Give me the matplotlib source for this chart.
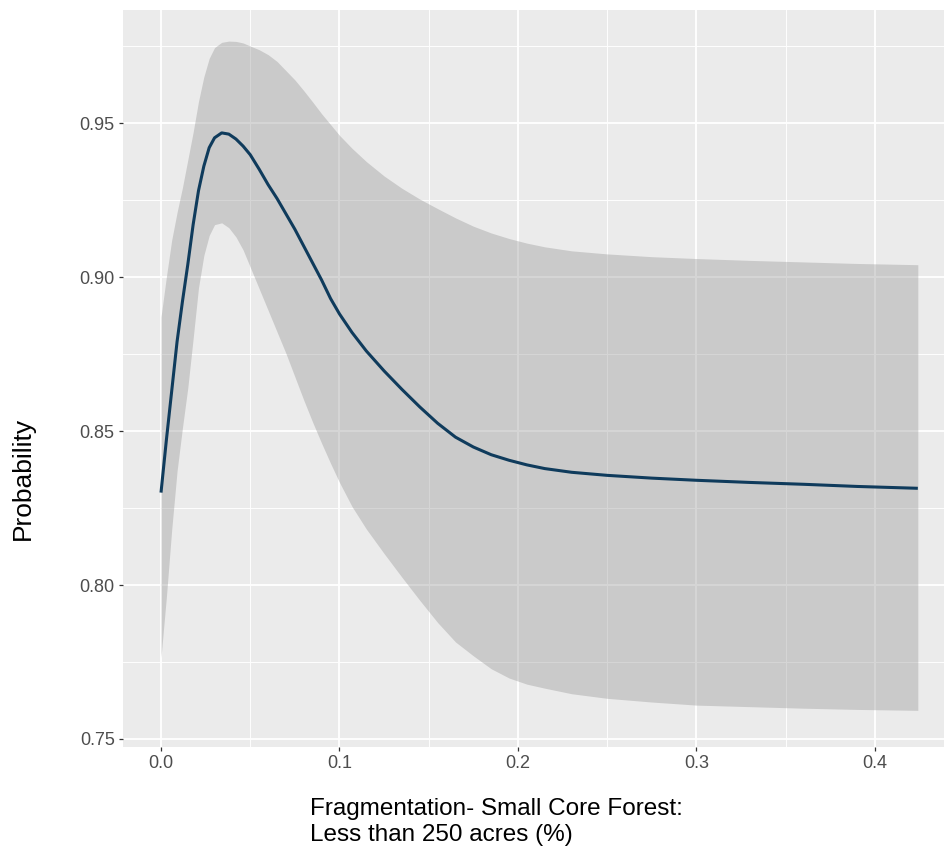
import numpy as np
import matplotlib.pyplot as plt
from matplotlib.ticker import MultipleLocator

plt.rcParams['font.family'] = ['Liberation Sans', 'DejaVu Sans']

# predicted probability and confidence band
frag = [0.000, 0.003, 0.006, 0.009, 0.012, 0.015, 0.018, 0.021, 0.024, 0.027,
        0.030, 0.034, 0.038, 0.042, 0.046, 0.050, 0.055, 0.060, 0.065, 0.070,
        0.075, 0.080, 0.085, 0.090, 0.095, 0.100, 0.107, 0.115, 0.125, 0.135,
        0.145, 0.155, 0.165, 0.175, 0.185, 0.195, 0.205, 0.215, 0.230, 0.250,
        0.275, 0.300, 0.330, 0.360, 0.390, 0.424]
prob = [0.830, 0.847, 0.863, 0.879, 0.892, 0.904, 0.917, 0.928, 0.936, 0.942,
        0.9452, 0.9468, 0.9464, 0.9448, 0.9425, 0.9397, 0.935, 0.930, 0.9255, 0.9205,
        0.9155, 0.910, 0.9045, 0.899, 0.893, 0.888, 0.882, 0.876, 0.8695, 0.8635,
        0.8578, 0.8525, 0.848, 0.8448, 0.8423, 0.8405, 0.839, 0.8378, 0.8366, 0.8356,
        0.8347, 0.834, 0.8333, 0.8327, 0.832, 0.8314]
upper = [0.887, 0.900, 0.912, 0.921, 0.929, 0.938, 0.947, 0.957, 0.965, 0.971,
         0.9745, 0.9762, 0.9766, 0.9765, 0.976, 0.975, 0.9738, 0.9722, 0.970, 0.967,
         0.964, 0.9605, 0.9568, 0.953, 0.9495, 0.946, 0.9418, 0.9375, 0.9328, 0.9288,
         0.9253, 0.9222, 0.9192, 0.9165, 0.9143, 0.9125, 0.911, 0.9098, 0.9085, 0.9075,
         0.9066, 0.906, 0.9054, 0.9049, 0.9044, 0.904]
lower = [0.7765, 0.796, 0.818, 0.837, 0.851, 0.864, 0.880, 0.8965, 0.907, 0.9135,
         0.917, 0.9176, 0.916, 0.913, 0.9088, 0.9032, 0.8962, 0.8892, 0.8822, 0.8752,
         0.8676, 0.860, 0.8528, 0.846, 0.8395, 0.8333, 0.8255, 0.8182, 0.8102, 0.8025,
         0.795, 0.7878, 0.7815, 0.777, 0.7728, 0.7698, 0.7678, 0.7665, 0.7647, 0.7632,
         0.762, 0.761, 0.7605, 0.760, 0.7596, 0.7593]

W, H = 945, 857
fig = plt.figure(figsize=(W / 100, H / 100), dpi=100)
ax = fig.add_axes([123 / W, 1 - 747 / H, (945 - 123) / W, (747 - 10) / H])

ax.set_facecolor('#EBEBEB')
for s in ax.spines.values():
    s.set_visible(False)

ax.xaxis.set_major_locator(MultipleLocator(0.1))
ax.xaxis.set_minor_locator(MultipleLocator(0.05))
ax.yaxis.set_major_locator(MultipleLocator(0.05))
ax.yaxis.set_minor_locator(MultipleLocator(0.025))
ax.grid(which='major', color='white', lw=1.3)
ax.grid(which='minor', color='white', lw=0.65)
ax.set_axisbelow(True)

ax.fill_between(frag, lower, upper, color='#999999', alpha=0.4, lw=0)
ax.plot(frag, prob, color='#0f3b5c', lw=2.2, solid_capstyle='butt',
        solid_joinstyle='round')

ax.set_xlim(-0.02129, 0.43922)
ax.set_ylim(0.7474, 0.9867)
ax.xaxis.set_major_formatter(plt.FuncFormatter(lambda v, p: f'{v:.1f}'))
ax.yaxis.set_major_formatter(plt.FuncFormatter(lambda v, p: f'{v:.2f}'))
ax.tick_params(which='major', length=3, width=0.9, color='#333333',
               labelcolor='#4D4D4D', labelsize=13, pad=3)
ax.tick_params(which='minor', length=0)

fig.text(23 / W, 1 - 478 / H, 'Probability', rotation=90, ha='center',
         va='center', fontsize=19, color='black')
fig.text(310 / W, 1 - 798 / H,
         'Fragmentation- Small Core Forest:\nLess than 250 acres (%)',
         ha='left', va='top', fontsize=17.5, color='black',
         linespacing=1.22, multialignment='left')

fig.savefig('out.png', dpi=100)
